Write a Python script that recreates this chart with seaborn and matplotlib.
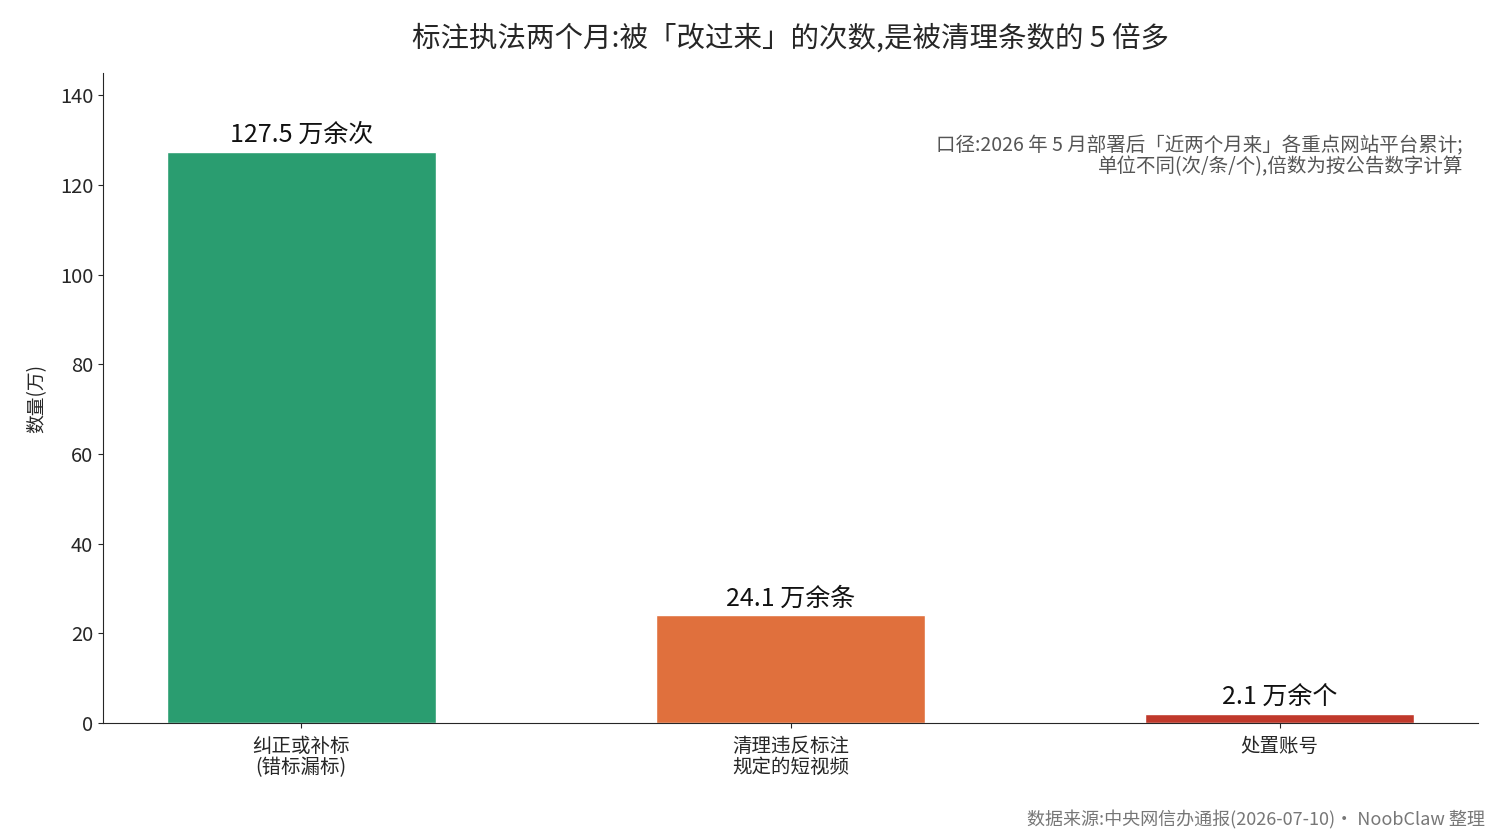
import matplotlib
matplotlib.use('Agg')
import matplotlib.pyplot as plt
import seaborn as sns
import pandas as pd

# data
categories = ['纠正或补标\n(错标漏标)', '清理违反标注\n规定的短视频', '处置账号']
values = [127.5, 24.1, 2.1]
value_labels = ['127.5 万余次', '24.1 万余条', '2.1 万余个']
bar_colors = ['#2a9d70', '#e0703d', '#c0392b']

sns.set_style('ticks')
plt.rcParams['font.family'] = ['Noto Sans CJK SC', 'DejaVu Sans']
plt.rcParams['axes.unicode_minus'] = False

df = pd.DataFrame({'cat': categories, 'val': values})

fig, ax = plt.subplots(figsize=(15, 8.4), dpi=100)
fig.subplots_adjust(left=0.0687, right=0.9853, top=0.913, bottom=0.1393)

sns.barplot(data=df, x='cat', y='val', hue='cat', palette=bar_colors,
            width=0.55, legend=False, saturation=1, ax=ax)

for i, (v, lab) in enumerate(zip(values, value_labels)):
    ax.text(i, v + 0.8, lab, ha='center', va='bottom', fontsize=18, color='#111111')

ax.set_xlim(-0.405, 2.405)
ax.set_ylim(0, 145)
ax.set_yticks(range(0, 141, 20))
ax.set_xlabel('')
ax.set_ylabel('数量(万)', fontsize=13.5, labelpad=9)
ax.tick_params(axis='y', labelsize=14.5)
ax.tick_params(axis='x', labelsize=14, pad=6)
for lbl in ax.get_xticklabels():
    lbl.set_linespacing(1.0)
sns.despine(ax=ax)

ax.set_title('标注执法两个月:被「改过来」的次数,是被清理条数的 5 倍多', fontsize=20.5, pad=19)

ax.text(0.989, 0.905, '口径:2026 年 5 月部署后「近两个月来」各重点网站平台累计;\n单位不同(次/条/个),倍数为按公告数字计算',
        transform=ax.transAxes, ha='right', va='top', fontsize=14, color='#555555',
        linespacing=1.05)

fig.text(0.99, 0.012, '数据来源:中央网信办通报(2026-07-10)· NoobClaw 整理',
         ha='right', va='bottom', fontsize=13, color='#777777')

fig.savefig('out.png', dpi=100)
